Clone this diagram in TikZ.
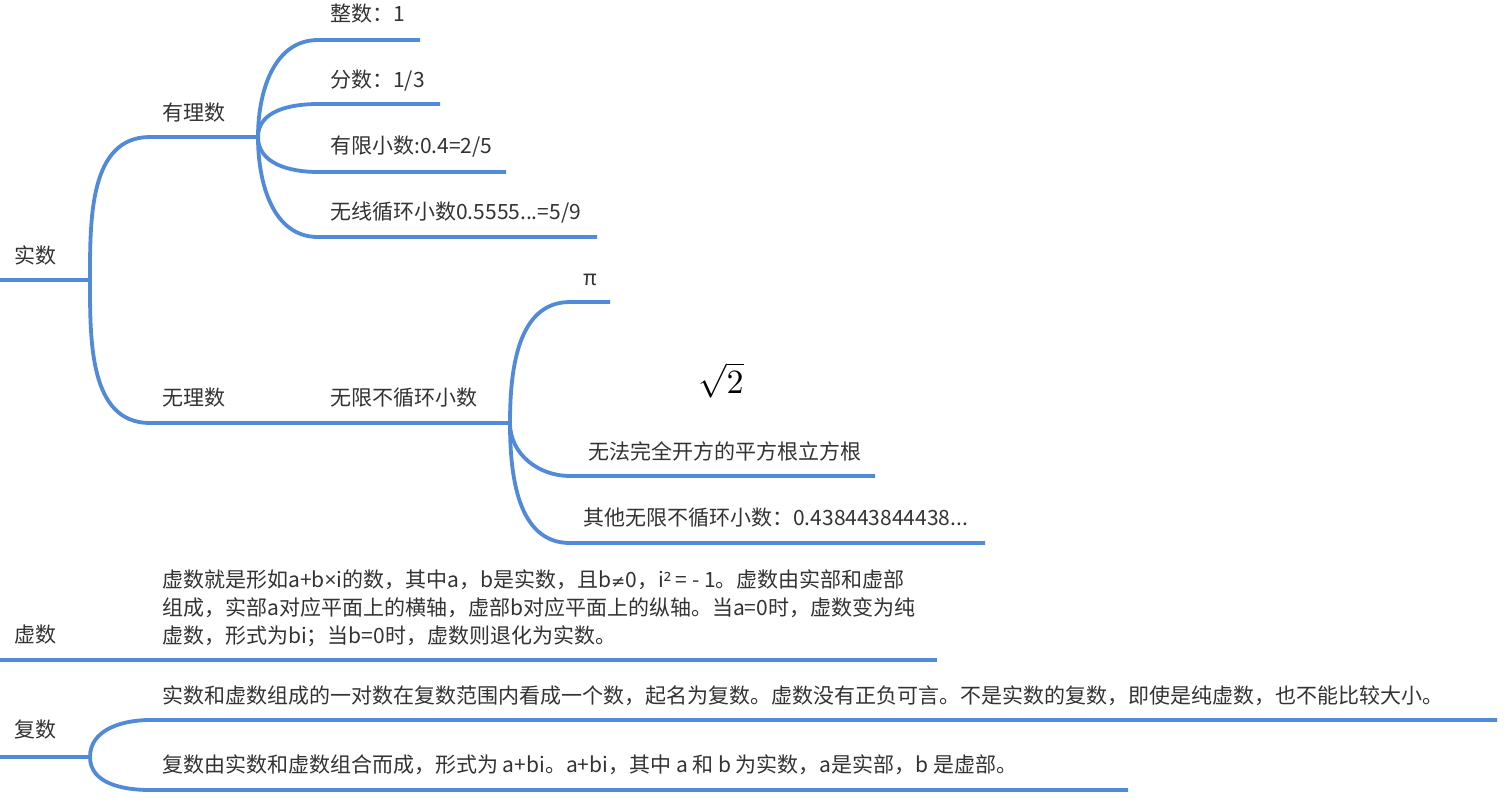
\documentclass[tikz,border=0pt]{standalone}
\usepackage{fontspec}
\setmainfont{Noto Sans CJK SC}
\newfontfamily\latf{Open Sans}
\newfontfamily\symf{DejaVu Sans}
\definecolor{lineblue}{RGB}{80,138,216}
\definecolor{txt}{RGB}{51,51,51}
\begin{document}
\begin{tikzpicture}[x=1pt,y=-1pt,
  link/.style={draw=lineblue, line width=3.8pt},
  lbl/.style={anchor=west, inner sep=0pt, text=txt, font=\fontsize{21}{28}\selectfont, text height=0.88em, text depth=0.12em, yshift=-3pt},
]
\useasboundingbox[fill=white] (0,0) rectangle (1506,804);
% texts
\node[lbl] (tR) at (14,257) {实数};
\node[lbl] (tQ) at (162,114) {有理数};
\node[lbl] (tI) at (162,399) {无理数};
\node[lbl] (tN) at (330,399) {无限不循环小数};
\node[lbl] (tZ) at (330,15) {整数：1};
\node[lbl] (tF) at (330,81) {分数：1/3};
\node[lbl] (tY) at (330,147) {有限小数:0.4=2/5};
\node[lbl] (tW) at (330,213) {无线循环小数0.5555...=5/9};
\node[lbl] (tPi) at (583,279) {π};
\node[inner sep=0pt, text=black] (tSq) at (721,380) {\fontsize{10}{12}\selectfont\scalebox{3.4}{$\sqrt{2}$}};
\node[lbl] (tK) at (588,453) {无法完全开方的平方根立方根};
\node[lbl] (tO) at (583,519) {其他无限不循环小数：0.438443844438...};
\node[lbl] (tV) at (14,636) {虚数};
\node[lbl] (tV1) at (162,581) {虚数就是形如a+b{\latf ×}i的数，其中a，b是实数，且b{\symf\fontsize{17}{20}\selectfont ≠}0，i{\latf ²} = - 1。虚数由实部和虚部};
\node[lbl] (tV2) at (162,609) {组成，实部a对应平面上的横轴，虚部b对应平面上的纵轴。当a=0时，虚数变为纯};
\node[lbl] (tV3) at (162,637) {虚数，形式为bi；当b=0时，虚数则退化为实数。};
\node[lbl] (tC) at (14,731) {复数};
\node[lbl] (tC1) at (162,697) {实数和虚数组成的一对数在复数范围内看成一个数，起名为复数。虚数没有正负可言。不是实数的复数，即使是纯虚数，也不能比较大小。};
\node[lbl] (tC2) at (162,766) {复数由实数和虚数组合而成，形式为 a+bi。a+bi，其中 a 和 b 为实数，a是实部，b 是虚部。};
% coordinates
\coordinate (r0) at (0,280);
\coordinate (rj) at (90,280);
\coordinate (qs) at (150,137);
\coordinate (qj) at (258,137);
\coordinate (is) at (150,423);
\coordinate (im) at (318,423);
\coordinate (ij) at (510,423);
\coordinate (zs) at (318,40);  \coordinate (ze) at (420,40);
\coordinate (fs) at (318,104); \coordinate (fe) at (440,104);
\coordinate (ys) at (318,172); \coordinate (ye) at (506,172);
\coordinate (ws) at (318,237); \coordinate (we) at (597,237);
\coordinate (ps) at (570,302); \coordinate (pe) at (610,302);
\coordinate (ks) at (570,476); \coordinate (ke) at (875,476);
\coordinate (os) at (570,543); \coordinate (oe) at (985,543);
\coordinate (v0) at (0,660);   \coordinate (ve) at (937,660);
\coordinate (c0) at (0,757);   \coordinate (cj) at (90,757);
\coordinate (c1s) at (150,720); \coordinate (c1e) at (1497,720);
\coordinate (c2s) at (150,790); \coordinate (c2e) at (1128,790);
% connectors
\draw[link] (r0) -- (rj);
\draw[link] (rj) to[out=90,in=180] (qs) -- (qj);
\draw[link] (rj) to[out=-90,in=180] (is) -- (im) -- (ij);
\draw[link] (qj) to[out=90,in=180] (zs) -- (ze);
\draw[link] (qj) to[out=90,in=180] (fs) -- (fe);
\draw[link] (qj) to[out=-90,in=180] (ys) -- (ye);
\draw[link] (qj) to[out=-90,in=180] (ws) -- (we);
\draw[link] (ij) to[out=90,in=180] (ps) -- (pe);
\draw[link] (ij) to[out=-90,in=180] (ks) -- (ke);
\draw[link] (ij) to[out=-90,in=180] (os) -- (oe);
\draw[link] (v0) -- (ve);
\draw[link] (c0) -- (cj);
\draw[link] (cj) to[out=90,in=180] (c1s) -- (c1e);
\draw[link] (cj) to[out=-90,in=180] (c2s) -- (c2e);
\end{tikzpicture}
\end{document}
